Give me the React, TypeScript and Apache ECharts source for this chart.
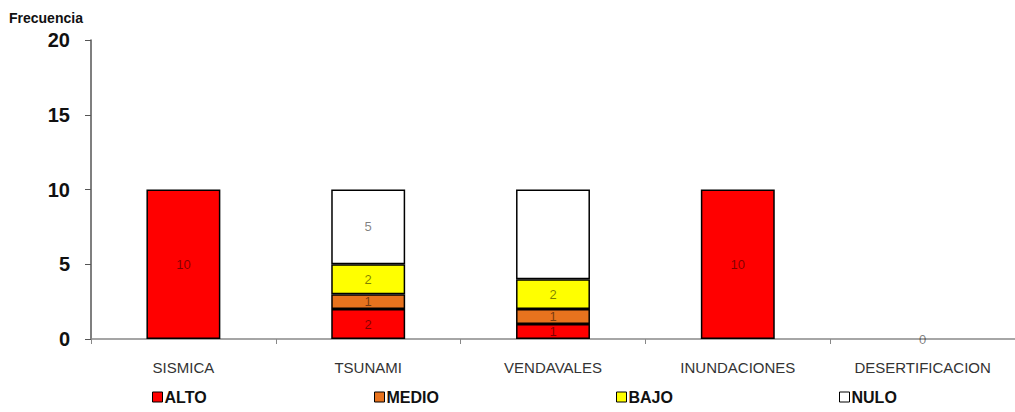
import React, { useEffect, useRef } from "react";
import * as echarts from "echarts";

const categories = ["SISMICA", "TSUNAMI", "VENDAVALES", "INUNDACIONES", "DESERTIFICACION"];
const seriesNames = ["ALTO", "MEDIO", "BAJO", "NULO"];
const alto = [10, 2, 1, 10, 0];
const medio = [0, 1, 1, 0, 0];
const bajo = [0, 2, 2, 0, 0];
const nulo = [0, 5, 6, 0, 0];
const seriesColors = ["#FF0000", "#E8731E", "#FFFF00", "#FFFFFF"];
const yTicks = [0, 5, 10, 15, 20];
// labels not printed in the reference
const hiddenLabels = [["VENDAVALES", "NULO"]];

const legendLefts = [152, 374, 616, 839];
const FONT = "Liberation Sans, Arial, sans-serif";

export default function App() {
  const ref = useRef<HTMLDivElement>(null);

  useEffect(() => {
    if (!ref.current) return;
    const chart = echarts.init(ref.current, null, { renderer: "svg" });
    const values = [alto, medio, bajo, nulo];
    const totals = categories.map((_, i) => values.reduce((s, v) => s + v[i], 0));

    const series = seriesNames.map((name, si) => ({
      name,
      type: "bar",
      stack: "total",
      barWidth: "40%",
      itemStyle: { color: seriesColors[si], borderColor: "#000", borderWidth: 1.5 },
      label: {
        show: true,
        position: "inside",
        fontSize: 13,
        fontFamily: FONT,
        color: "rgba(0,0,0,0.5)",
      },
      data: values[si].map((v, ci) => {
        const hidden = hiddenLabels.some((h) => h[0] === categories[ci] && h[1] === name);
        const showZero = v === 0 && totals[ci] === 0 && si === 0;
        const show = !hidden && (v > 0 || showZero);
        return {
          value: v,
          label: { show },
          itemStyle: v === 0 ? { borderWidth: 0 } : {},
        };
      }),
    }));

    const legends = seriesNames.map((name, si) => ({
      show: true,
      left: legendLefts[si],
      top: 389,
      padding: 0,
      itemWidth: 10,
      itemHeight: 10,
      icon: "rect",
      itemStyle: { borderColor: "#000", borderWidth: 1 },
      textStyle: {
        fontSize: 16,
        fontWeight: "bold",
        color: "#111",
        fontFamily: FONT,
        padding: [0, 0, 0, -3],
      },
      data: [name],
      selectedMode: false,
    }));

    chart.setOption({
      animation: false,
      backgroundColor: "#fff",
      title: {
        text: "Frecuencia",
        left: 9,
        top: 11,
        padding: 0,
        textStyle: {
          fontSize: 14,
          fontWeight: "bold",
          color: "#111",
          fontFamily: FONT,
        },
      },
      legend: legends,
      grid: { left: 91, right: 0, top: 40, bottom: 73 },
      xAxis: {
        type: "category",
        data: categories,
        axisLine: { lineStyle: { color: "#888", width: 1.5 } },
        axisTick: { show: true, length: 5, lineStyle: { color: "#888" } },
        axisLabel: {
          margin: 21,
          fontSize: 15,
          color: "#333",
          fontFamily: FONT,
          interval: 0,
        },
      },
      yAxis: {
        type: "value",
        min: yTicks[0],
        max: yTicks[yTicks.length - 1],
        interval: yTicks[1] - yTicks[0],
        splitLine: { show: false },
        axisLine: { show: true, lineStyle: { color: "#555", width: 1.5 } },
        axisTick: { show: true, length: 6, lineStyle: { color: "#555" } },
        axisLabel: {
          margin: 21,
          fontSize: 20,
          fontWeight: "bold",
          color: "#111",
          fontFamily: FONT,
        },
      },
      series,
    });
    return () => chart.dispose();
  }, []);

  return (
    <div
      ref={ref}
      style={{ position: "absolute", left: 0, top: 0, width: 1015, height: 412 }}
    />
  );
}
